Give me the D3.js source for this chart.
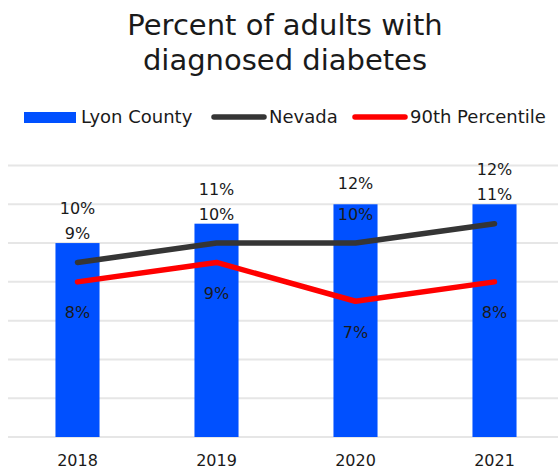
<!DOCTYPE html>
<html>
<head>
<meta charset="utf-8">
<script src="https://cdn.jsdelivr.net/npm/d3@7"></script>
<style>
  html, body { margin: 0; padding: 0; background: #fff; }
  svg { display: block; }
  text { font-family: "DejaVu Sans", sans-serif; fill: #1a1a1a; }
</style>
</head>
<body>
<div id="chart"></div>
<script>
// Percent of adults with diagnosed diabetes, by year
const years = ["2018", "2019", "2020", "2021"];
const lyonCounty = [10, 11, 12, 12];
const nevada = [9, 10, 10, 11];
const percentile90 = [8, 9, 7, 8];
const yTicks = [0, 2, 4, 6, 8, 10, 12, 14];
const titleLines = ["Percent of adults with", "diagnosed diabetes"];
const seriesNames = ["Lyon County", "Nevada", "90th Percentile"];

const width = 558, height = 472;
const colors = { bar: "#0050ff", nevada: "#353535", p90: "#ff0000", grid: "#e6e6e6" };

const svg = d3.select("#chart").append("svg")
  .attr("width", width).attr("height", height);

const x = d3.scaleBand().domain(years).range([8, 564])
  .paddingInner(0.683).paddingOuter(0.3415);
const y = d3.scaleLinear().domain([0, 14]).range([437, 165.5]);
const cx = d => x(d) + x.bandwidth() / 2;

// title
svg.append("g").selectAll("text").data(titleLines).join("text")
  .attr("x", 285).attr("y", (d, i) => 35 + i * 35)
  .attr("text-anchor", "middle")
  .style("font-size", "29px")
  .text(d => d);

// gridlines
svg.append("g").selectAll("line").data(yTicks).join("line")
  .attr("x1", 8).attr("x2", 564)
  .attr("y1", d => y(d)).attr("y2", d => y(d))
  .attr("stroke", colors.grid).attr("stroke-width", 2);

// bars
svg.append("g").selectAll("rect").data(years).join("rect")
  .attr("x", d => x(d)).attr("width", x.bandwidth())
  .attr("y", (d, i) => y(lyonCounty[i]))
  .attr("height", (d, i) => y(0) - y(lyonCounty[i]))
  .attr("fill", colors.bar);

// lines
const line = d3.line().x(d => cx(d.year)).y(d => y(d.v));
const toPts = arr => years.map((yr, i) => ({ year: yr, v: arr[i] }));
svg.append("path").datum(toPts(nevada)).attr("d", line)
  .attr("fill", "none").attr("stroke", colors.nevada)
  .attr("stroke-width", 5.5).attr("stroke-linecap", "round").attr("stroke-linejoin", "round");
svg.append("path").datum(toPts(percentile90)).attr("d", line)
  .attr("fill", "none").attr("stroke", colors.p90)
  .attr("stroke-width", 5.5).attr("stroke-linecap", "round").attr("stroke-linejoin", "round");

// value labels
const labelG = svg.append("g").style("font-size", "16px").attr("text-anchor", "middle");
years.forEach((yr, i) => {
  const nevY = y(nevada[i]) - 29;
  const barY = Math.min(y(lyonCounty[i]) - 21, nevY - 25);
  labelG.append("text").attr("x", cx(yr)).attr("y", barY).attr("dy", "0.35em")
    .text(lyonCounty[i] + "%");
  labelG.append("text").attr("x", cx(yr)).attr("y", nevY).attr("dy", "0.35em")
    .text(nevada[i] + "%");
  labelG.append("text").attr("x", cx(yr)).attr("y", y(percentile90[i]) + 31).attr("dy", "0.35em")
    .text(percentile90[i] + "%");
});

// x axis labels
const xAxis = d3.axisBottom(x).tickSize(0).tickPadding(0);
svg.append("g").attr("transform", "translate(0,455)").call(xAxis)
  .call(g => g.select(".domain").remove())
  .call(g => g.selectAll("text").style("font-size", "16px")
    .style("font-family", "DejaVu Sans, sans-serif").attr("fill", "#1a1a1a"));

// legend
const legend = svg.append("g").attr("transform", "translate(0,117)").style("font-size", "18px");
const items = [
  { name: seriesNames[0], type: "bar", color: colors.bar, x0: 24 },
  { name: seriesNames[1], type: "line", color: colors.nevada, x0: 212 },
  { name: seriesNames[2], type: "line", color: colors.p90, x0: 353 }
];
items.forEach(it => {
  if (it.type === "bar") {
    legend.append("rect").attr("x", it.x0).attr("y", -5).attr("width", 52).attr("height", 11)
      .attr("fill", it.color);
  } else {
    legend.append("line").attr("x1", it.x0 + 2).attr("x2", it.x0 + 52)
      .attr("y1", 0).attr("y2", 0)
      .attr("stroke", it.color).attr("stroke-width", 5.5).attr("stroke-linecap", "round");
  }
  legend.append("text").attr("x", it.x0 + 57).attr("y", 0).attr("dy", "0.35em").text(it.name);
});
</script>
</body>
</html>
